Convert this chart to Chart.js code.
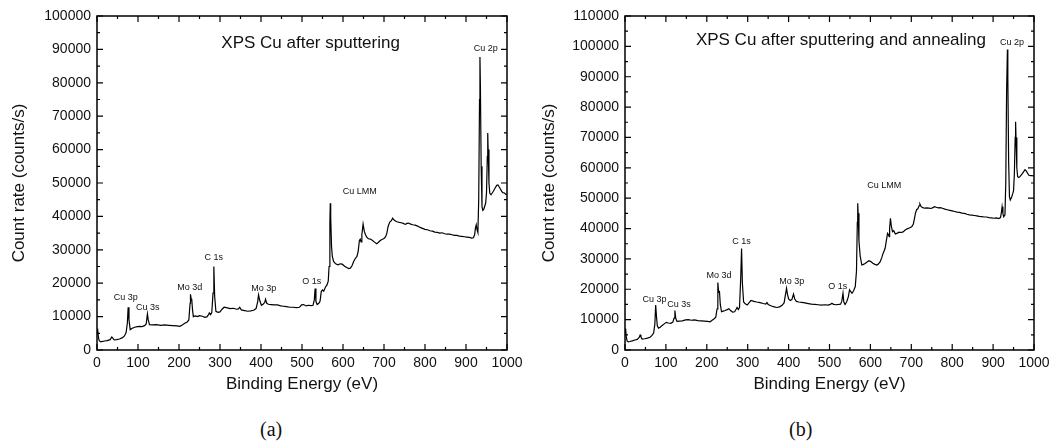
<!DOCTYPE html>
<html>
<head>
<meta charset="utf-8">
<script src="https://cdn.jsdelivr.net/npm/chart.js@4.4.0/dist/chart.umd.min.js"></script>
<style>
  body { margin: 0; background: #fff; }
  .panel { position: absolute; top: 0; width: 530px; height: 444px; }
  .panel canvas { position: absolute; top: 0; left: 0; }
  .cap { position: absolute; top: 418px; font: 20px "Liberation Serif", serif; color: #111; }
</style>
</head>
<body>
<div class="panel" style="left:0"><canvas id="chartA" width="530" height="400"></canvas><div class="cap" style="left:260px">(a)</div></div>
<div class="panel" style="left:530px"><canvas id="chartB" width="531" height="400"></canvas><div class="cap" style="left:259px">(b)</div></div>
<script>
// binding energy (eV) / count rate (counts/s), after sputtering
const energyA = [0, 1, 2, 3, 5, 8, 12, 18, 25, 32, 36, 38, 42, 48, 55, 62, 67, 71, 74, 76, 78, 81, 86, 92, 98, 104, 110, 116, 120, 123, 125, 128,
  135, 145, 155, 165, 175, 185, 195, 202, 208, 214, 220, 224, 227, 228, 230, 231, 233, 235, 240, 245, 250, 257, 263, 268, 272, 274, 277, 280,
  283, 285, 287, 290, 295, 300, 305, 310, 318, 325, 333, 340, 345, 348, 352, 360, 368, 375, 382, 388, 392, 394, 397, 401, 405, 409, 411, 414,
  418, 425, 432, 440, 448, 455, 462, 470, 478, 486, 494, 499, 504, 510, 516, 522, 527, 530, 532, 534, 537, 541, 544, 547, 550, 553, 557, 561,
  564, 566, 568, 569, 570, 572, 574, 577, 582, 588, 593, 598, 604, 609, 614, 618, 622, 626, 630, 634, 637, 640, 642, 644, 646, 649, 652, 655,
  658, 662, 667, 672, 677, 682, 686, 690, 695, 700, 704, 707, 710, 714, 718, 721, 724, 728, 732, 737, 742, 747, 752, 756, 760, 765, 770, 776,
  782, 788, 794, 800, 806, 812, 818, 824, 830, 836, 842, 848, 854, 860, 866, 872, 878, 884, 890, 896, 902, 908, 914, 918, 921, 923, 925, 927,
  929, 931, 933, 934, 935, 937, 939, 941, 943, 946, 948, 950, 952, 953, 954, 956, 958, 961, 964, 967, 971, 975, 978, 981, 984, 987, 990, 994, 997, 1000];
const countsA = [6200, 5000, 6400, 4200, 2900, 2500, 2500, 2700, 2800, 3100, 3900, 3600, 3000, 3100, 3300, 3700, 4200, 5200, 8000, 12800, 9000, 6100, 6500, 6800, 7000, 7100, 7000, 7300, 7800, 10800, 9000, 7600,
  7500, 7600, 7400, 7500, 7400, 7300, 7200, 7100, 7500, 8000, 8400, 9000, 14000, 16700, 15000, 15300, 12000, 10000, 10200, 10000, 10300, 10100, 9800, 9900, 10600, 11100, 10600, 11200,
  17000, 25000, 16000, 11600, 11300, 11400, 12200, 12800, 12600, 12400, 12500, 12200, 12300, 12800, 12000, 11800, 11600, 11700, 11900, 12400, 14500, 16500, 14800, 13400, 13700, 14200, 15200, 14000,
  13700, 13600, 13500, 13500, 13200, 13100, 13000, 12800, 12800, 12700, 12800, 13500, 13600, 13200, 13400, 13300, 13400, 15000, 18400, 14500, 13600, 14000, 14600, 17500, 18000, 17600, 18800, 19500,
  20600, 25000, 38000, 43900, 40000, 31000, 28000, 26500, 25800, 25500, 25800, 25700, 25100, 24700, 24400, 24500, 25200, 26500, 27400, 28000, 29500, 32800, 33200, 32400, 34500, 37700, 35500, 34500,
  33800, 33300, 33200, 32800, 32300, 31800, 32200, 32700, 33100, 33400, 33900, 35000, 37000, 38300, 38700, 39500, 39000, 38600, 38400, 38200, 38100, 37900, 37600, 37900, 38000, 37700, 37500, 37400,
  37100, 36700, 36400, 36100, 36000, 35700, 35600, 35300, 35200, 35000, 35100, 34800, 34700, 34700, 34500, 34300, 34300, 34100, 34000, 33900, 33800, 33700, 33500, 33600, 34500, 36500, 37500, 36000,
  35200, 45000, 75000, 87700, 80000, 55000, 42900, 41800, 42000, 43200, 44000, 47000, 58000, 65000, 60000, 50000, 46900, 46500, 47000, 47600, 48500, 49300, 49400, 48800, 48200, 47500, 47100, 47000, 46600, 46700];

// after sputtering and annealing
const energyB = [0, 1, 2, 3, 5, 8, 12, 18, 24, 30, 35, 37, 39, 42, 48, 55, 61, 66, 70, 73, 75, 77, 79, 82, 86, 91, 96, 101, 106, 112, 117, 120, 122, 124, 127,
  133, 140, 148, 155, 162, 170, 178, 186, 194, 202, 208, 213, 218, 222, 225, 227, 229, 231, 233, 236, 240, 245, 250, 254, 258, 263, 268, 272, 274, 277, 280,
  283, 285, 287, 290, 294, 299, 304, 308, 315, 322, 330, 338, 344, 347, 350, 358, 365, 371, 378, 384, 389, 392, 395, 397, 400, 404, 408, 412, 415,
  419, 425, 432, 440, 448, 456, 464, 472, 480, 488, 496, 502, 506, 510, 516, 522, 527, 530, 533, 535, 538, 542, 546, 549, 552, 555, 559, 563,
  566, 568, 569, 570, 572, 575, 579, 583, 587, 592, 596, 601, 606, 611, 616, 620, 624, 628, 631, 634, 636, 639, 642, 644, 646, 647, 649, 651, 654,
  657, 661, 666, 670, 675, 680, 685, 690, 695, 701, 705, 708, 710, 713, 716, 719, 721, 724, 728, 733, 738, 743, 748, 753, 757, 761, 766, 771, 776,
  782, 788, 794, 800, 806, 812, 818, 824, 830, 836, 842, 848, 854, 860, 866, 872, 878, 884, 890, 896, 902, 908, 914, 918, 920, 922, 924, 926,
  929, 931, 933, 935, 936, 938, 940, 942, 945, 948, 950, 952, 954, 955, 956, 958, 960, 963, 966, 970, 974, 978, 981, 984, 987, 991, 995, 1000];
const countsB = [6900, 5200, 7100, 4500, 3000, 2700, 2800, 3000, 3300, 3500, 4200, 4900, 4300, 3600, 3700, 3900, 4200, 4800, 5600, 8500, 14800, 11000, 8000, 7200, 7500, 8100, 8600, 9100, 8900, 8800, 9200, 10500, 13000, 10500, 9400,
  9500, 9600, 9900, 10000, 9800, 9900, 9700, 9600, 9500, 9400, 9300, 9800, 10300, 10800, 13500, 22200, 19000, 19200, 15000, 12600, 12800, 13000, 13300, 13600, 13000, 12500, 12600, 13500, 14000, 13300, 14000,
  24000, 33400, 22000, 15800, 15200, 14800, 15700, 16300, 16000, 15800, 15600, 15300, 15100, 15600, 15000, 14500, 14200, 14000, 14200, 14700, 15500, 18000, 20300, 18500, 16800, 16300, 16600, 18400, 16800,
  16000, 15800, 15700, 15500, 15300, 15100, 15000, 14900, 14800, 14900, 14800, 15000, 15400, 15000, 14900, 15000, 15100, 16000, 18700, 15800, 15000, 15900, 17500, 19800, 19200, 18700, 19500, 20900,
  26000, 42000, 48300, 45000, 36000, 31000, 28000, 28200, 28500, 29000, 29400, 29100, 28600, 28200, 28000, 28400, 29100, 30500, 31800, 32800, 33500, 36000, 38400, 38000, 37300, 40000, 43400, 41000, 39000,
  39300, 38200, 38500, 38800, 38700, 38900, 39500, 39900, 40200, 40600, 41500, 43500, 45000, 46200, 46500, 47500, 48100, 47200, 46900, 46700, 46800, 46700, 46600, 46900, 47200, 47000, 46800, 46900, 46700,
  46400, 46200, 46000, 45800, 45600, 45400, 45300, 45100, 45000, 44700, 44500, 44400, 44300, 44200, 44000, 43900, 43800, 43800, 43600, 43500, 43400, 43500, 43300, 43600, 45000, 47200, 45000, 43900,
  44500, 55000, 85000, 99000, 90000, 62000, 50500, 49400, 50200, 51500, 52500, 58000, 70000, 75200, 70000, 60000, 57100, 56800, 57200, 57800, 58600, 59400, 59000, 58300, 57600, 57400, 57400, 57300];

const xTicks = [0, 100, 200, 300, 400, 500, 600, 700, 800, 900, 1000];
const peakNames = ['Cu 3p', 'Cu 3s', 'Mo 3d', 'C 1s', 'Mo 3p', 'O 1s', 'Cu LMM', 'Cu 2p'];

// where each peak label sits, in data units
const labelAtA = [[70, 15600], [124, 12600], [226, 18600], [285, 27600], [407, 18300], [524, 20400], [641, 47600], [948, 90300]];
const labelAtB = [[72, 16700], [132, 15000], [230, 24400], [285, 35700], [408, 22400], [520, 20900], [634, 54100], [946, 101200]];

const framePlugin = {
  id: 'frame',
  afterDraw(chart, args, opts) {
    const ctx = chart.ctx;
    const a = chart.chartArea;
    const xs = chart.scales.x, ys = chart.scales.y;
    ctx.save();
    ctx.strokeStyle = '#000';
    ctx.lineWidth = 1.5;
    ctx.strokeRect(a.left, a.top, a.right - a.left, a.bottom - a.top);
    ctx.lineWidth = 1.2;
    ctx.beginPath();
    for (let v = xs.min; v <= xs.max; v += 50) {
      const px = xs.getPixelForValue(v);
      const len = v % 100 === 0 ? 6 : 3;
      ctx.moveTo(px, a.bottom); ctx.lineTo(px, a.bottom - len);
      ctx.moveTo(px, a.top); ctx.lineTo(px, a.top + len);
    }
    for (let v = ys.min; v <= ys.max; v += 5000) {
      const py = ys.getPixelForValue(v);
      const len = v % 10000 === 0 ? 6 : 3;
      ctx.moveTo(a.left, py); ctx.lineTo(a.left + len, py);
      ctx.moveTo(a.right, py); ctx.lineTo(a.right - len, py);
    }
    ctx.stroke();

    ctx.fillStyle = '#111';
    ctx.textAlign = 'center';
    ctx.textBaseline = 'middle';
    ctx.font = '9px "Liberation Sans", Arial, sans-serif';
    opts.labels.forEach((p, i) => {
      ctx.fillText(peakNames[i], xs.getPixelForValue(p[0]), ys.getPixelForValue(p[1]));
    });
    ctx.font = '17px "Liberation Sans", Arial, sans-serif';
    ctx.fillText(opts.title, xs.getPixelForValue(opts.titleAt[0]), ys.getPixelForValue(opts.titleAt[1]));
    ctx.restore();
  }
};

function makeChart(id, energy, counts, yMax, labels, title, titleAt, padRight) {
  const pts = energy.map((e, i) => ({ x: e, y: counts[i] }));
  return new Chart(document.getElementById(id), {
    type: 'line',
    data: { datasets: [{ data: pts, borderColor: '#000', borderWidth: 1.2, pointRadius: 0, tension: 0 }] },
    options: {
      responsive: false,
      animation: false,
      layout: { padding: { top: 16, right: padRight, left: 0, bottom: 0 } },
      plugins: {
        legend: { display: false },
        tooltip: { enabled: false },
        frame: { labels: labels, title: title, titleAt: titleAt }
      },
      scales: {
        x: {
          type: 'linear', min: 0, max: 1000,
          afterBuildTicks: s => { s.ticks = xTicks.map(v => ({ value: v })); },
          afterFit: s => { s.height = 50; },
          grid: { display: false, drawTicks: false },
          border: { display: false },
          ticks: { padding: 5, color: '#111', callback: v => String(v), font: { family: '"Liberation Sans", Arial', size: 14 }, maxRotation: 0 },
          title: { display: true, text: 'Binding Energy (eV)', color: '#111', padding: { top: 0, bottom: 5 }, font: { family: '"Liberation Sans", Arial', size: 17 } }
        },
        y: {
          min: 0, max: yMax,
          afterFit: s => { s.width = id === 'chartA' ? 97 : 95; },
          grid: { display: false, drawTicks: false },
          border: { display: false },
          ticks: { stepSize: 10000, padding: 6, color: '#111', callback: v => String(v), font: { family: '"Liberation Sans", Arial', size: 14 } },
          title: { display: true, text: 'Count rate (counts/s)', color: '#111', padding: { top: 9, bottom: 0 }, font: { family: '"Liberation Sans", Arial', size: 17 } }
        }
      }
    },
    plugins: [framePlugin]
  });
}

makeChart('chartA', energyA, countsA, 100000, labelAtA, 'XPS Cu after sputtering', [521, 91800], 23);
makeChart('chartB', energyB, countsB, 110000, labelAtB, 'XPS Cu after sputtering and annealing', [528, 102100], 27);
</script>
</body>
</html>
